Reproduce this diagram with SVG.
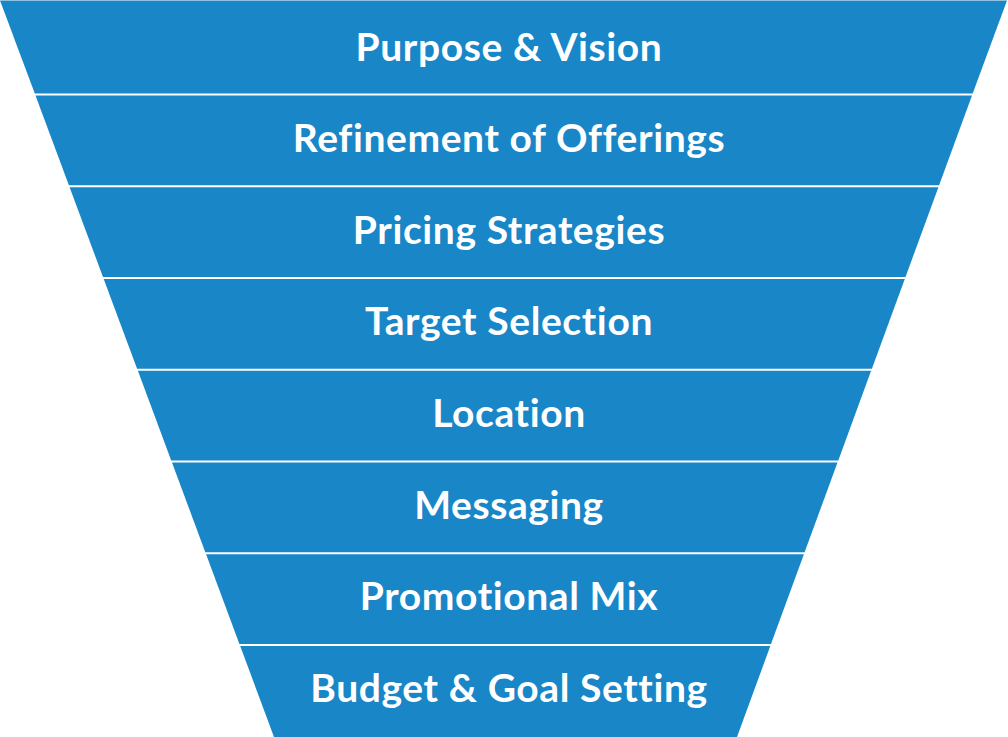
<svg xmlns="http://www.w3.org/2000/svg" width="1008" height="737" viewBox="0 0 1008 737">
<style>
.band{fill:#1886c7;}
.lbl{fill:#ffffff;font-family:Lato,"Open Sans","Liberation Sans",sans-serif;font-weight:700;font-size:39px;letter-spacing:0.6px;font-variant-ligatures:none;text-anchor:middle;}
</style>
<rect width="1008" height="737" fill="#ffffff"/>
<g id="band1"><polygon class="band" points="0,0.5 1007,0.5 972.7,93.5 34.8,93.5"/><text class="lbl" x="509" y="60.7">Purpose &amp; Vision</text></g>
<g id="band2"><polygon class="band" points="35.5,95.5 972,95.5 939.1,185.3 68.9,185.3"/><text class="lbl" x="509" y="152.3">Refinement of Offerings</text></g>
<g id="band3"><polygon class="band" points="69.6,187.3 938.4,187.3 905.5,277 103,277"/><text class="lbl" x="509" y="243.8">Pricing Strategies</text></g>
<g id="band4"><polygon class="band" points="103.7,279 904.8,279 871.9,368.8 137.1,368.8"/><text class="lbl" x="509" y="335.4">Target Selection</text></g>
<g id="band5"><polygon class="band" points="137.9,370.8 871.1,370.8 838.3,460.5 171.2,460.5"/><text class="lbl" x="509" y="427">Location</text></g>
<g id="band6"><polygon class="band" points="172,462.5 837.5,462.5 804.6,552.3 205.3,552.3"/><text class="lbl" x="509" y="518.6">Messaging</text></g>
<g id="band7"><polygon class="band" points="206.1,554.3 803.9,554.3 771,644 239.4,644"/><text class="lbl" x="509" y="610.1">Promotional Mix</text></g>
<g id="band8"><polygon class="band" points="240.2,646 770.3,646 737,737 274,737"/><text class="lbl" x="509" y="701.7">Budget &amp; Goal Setting</text></g>
<g id="connectors"/>
</svg>
